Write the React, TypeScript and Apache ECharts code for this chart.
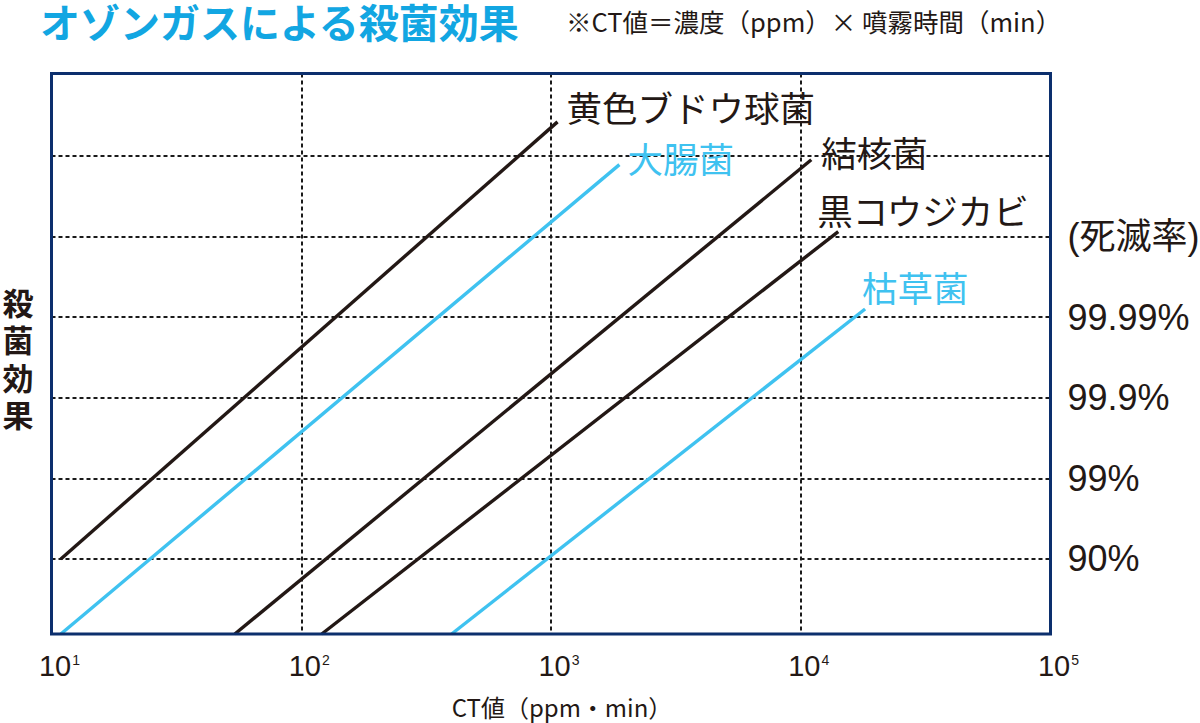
import React, { useEffect, useRef } from "react";
import * as echarts from "echarts";

// ---- data ----
const CT_MIN = 10;
const CT_MAX = 100000;
const KILL_LEVELS = [1, 2, 3, 4, 5, 6];
const KILL_LABELS = ["90%", "99%", "99.9%", "99.99%", "(死滅率)", ""];
const Y_MIN = 0.07;
const Y_MAX = 7.02;

const SERIES_NAMES = ["黄色ブドウ球菌", "大腸菌", "結核菌", "黒コウジカビ", "枯草菌"];
const STAPH = [[10.9, 1.0], [1062, 6.42]];
const ECOLI = [[10.9, 0.07], [1879, 5.89]];
const TB = [[54.2, 0.07], [11020, 5.95]];
const ASPERGILLUS = [[120.8, 0.07], [14130, 5.06]];
const SUBTILIS = [[400, 0.07], [18100, 4.1]];

const TITLE = "オゾンガスによる殺菌効果";
const SUBTITLE = "※CT値＝濃度（ppm）× 噴霧時間（min）";
const X_NAME = "CT値（ppm・min）";
const Y_NAME_CHARS = ["殺", "菌", "効", "果"];

// ---- styles ----
const BLACK = "#231815";
const BLUE = "#3fc2f0";
const TITLE_BLUE = "#12a6e2";
const NAVY = "#0c2f6d";
const JP = "'Noto Sans CJK JP', sans-serif";
const LAT = "'Liberation Sans', 'Noto Sans CJK JP', sans-serif";
const GRID_LINE = { color: "#1a1a1a", type: [4, 3], width: 2 };

const SERIES_DATA = [STAPH, ECOLI, TB, ASPERGILLUS, SUBTILIS];
const SERIES_COLORS = [BLACK, BLUE, BLACK, BLACK, BLUE];
const LABEL_OFFSETS = [
  [9, -15],
  [8, -7],
  [10, -8],
  [-21, -22],
  [-3, -22],
];

export default function App() {
  const ref = useRef<HTMLDivElement>(null);
  useEffect(() => {
    if (!ref.current) return;
    const chart = echarts.init(ref.current, null, { renderer: "svg" });
    const series: any[] = SERIES_NAMES.map((name, i) => ({
      name,
      type: "line",
      data: SERIES_DATA[i],
      showSymbol: false,
      symbol: "none",
      silent: true,
      z: 5,
      lineStyle: { color: SERIES_COLORS[i], width: 3.4 },
    }));
    series.push({
      name: "grid",
      type: "line",
      data: [],
      silent: true,
      markLine: {
        silent: true,
        symbol: ["none", "none"],
        animation: false,
        lineStyle: GRID_LINE,
        label: {
          show: true,
          position: "end",
          distance: 17,
          color: BLACK,
          fontSize: 36,
          fontFamily: LAT,
          formatter: (p: any) => KILL_LABELS[KILL_LEVELS.indexOf(p.value)] ?? "",
        },
        data: KILL_LEVELS.map((v) => ({ yAxis: v })),
      },
    });

    chart.setOption({
      animation: false,
      backgroundColor: "#ffffff",
      grid: {
        show: true,
        left: 51.5,
        top: 73.5,
        width: 999,
        height: 563,
        borderColor: NAVY,
        borderWidth: 3,
        backgroundColor: "transparent",
        z: 10,
      },
      xAxis: {
        type: "log",
        logBase: 10,
        min: CT_MIN,
        max: CT_MAX,
        splitNumber: 4,
        axisLine: { show: false },
        axisTick: { show: false },
        splitLine: { show: true, lineStyle: GRID_LINE },
        name: X_NAME,
        nameLocation: "middle",
        nameGap: 60,
        nameTextStyle: { fontSize: 24, color: BLACK, fontFamily: JP, padding: [0, 0, 0, 22] },
        axisLabel: {
          show: true,
          showMinLabel: true,
          showMaxLabel: true,
          margin: 17,
          padding: [0, 0, 0, 16],
          formatter: (v: number) => `{b|10}{s|${Math.round(Math.log10(v))}}`,
          rich: {
            b: { fontSize: 29, lineHeight: 30, color: BLACK, fontFamily: LAT },
            s: { fontSize: 14, lineHeight: 14, color: BLACK, fontFamily: LAT, verticalAlign: "top", padding: [2, 0, 0, 1] },
          },
        },
      },
      yAxis: {
        type: "value",
        min: Y_MIN,
        max: Y_MAX,
        axisLine: { show: false },
        axisTick: { show: false },
        axisLabel: { show: false },
        splitLine: { show: false },
      },
      series,
    });

    const graphics: any[] = [
      {
        type: "text",
        left: 40,
        top: 1,
        style: { text: TITLE, fontSize: 40, fontWeight: "bold", fill: TITLE_BLUE, fontFamily: JP },
      },
      {
        type: "text",
        left: 566,
        top: 8,
        style: { text: SUBTITLE, fontSize: 25.5, fill: BLACK, fontFamily: JP },
      },
    ];
    Y_NAME_CHARS.forEach((ch, i) => {
      graphics.push({
        type: "text",
        x: 18,
        y: 301 + i * 37.5,
        style: {
          text: ch,
          fontSize: 31,
          fontWeight: "bold",
          fill: BLACK,
          fontFamily: JP,
          align: "center",
          verticalAlign: "middle",
        },
      });
    });
    SERIES_NAMES.forEach((name, i) => {
      const d = SERIES_DATA[i];
      const end = d[d.length - 1];
      const p = chart.convertToPixel({ gridIndex: 0 }, end) as number[];
      graphics.push({
        type: "text",
        x: p[0] + LABEL_OFFSETS[i][0],
        y: p[1] + LABEL_OFFSETS[i][1],
        z: 20,
        style: {
          text: name,
          fontSize: 35.5,
          fill: SERIES_COLORS[i],
          fontFamily: JP,
          align: "left",
          verticalAlign: "middle",
        },
      });
    });
    chart.setOption({ graphic: graphics });

    return () => chart.dispose();
  }, []);
  return (
    <div
      ref={ref}
      style={{ position: "fixed", left: 0, top: 0, width: 1200, height: 723, background: "#fff" }}
    />
  );
}
